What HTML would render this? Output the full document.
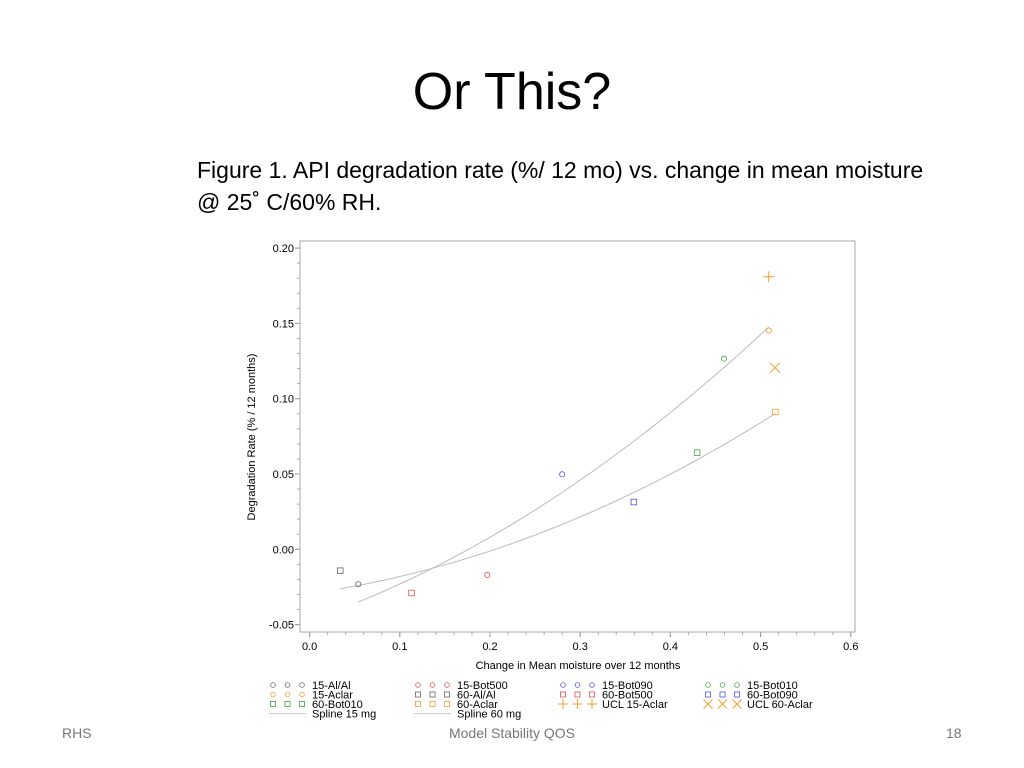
<!DOCTYPE html>
<html><head><meta charset="utf-8"><style>
body{margin:0;width:1024px;height:768px;background:#fff;overflow:hidden;font-family:"Liberation Sans",sans-serif;position:relative}
.t{position:absolute}
</style></head><body>
<div class="t" style="left:0;width:1024px;top:62px;text-align:center;font-size:52px;color:#000">Or This?</div>
<div class="t" style="left:197px;top:154px;font-size:23px;line-height:32px;color:#000">Figure 1. API degradation rate (%/ 12 mo) vs. change in mean moisture<br>@ 25˚ C/60% RH.</div>
<div class="t" style="left:62px;top:725px;font-size:14px;color:#777">RHS</div>
<div class="t" style="left:0;width:1024px;text-align:center;top:725px;font-size:14px;color:#777">Model Stability QOS</div>
<div class="t" style="left:946px;top:725px;font-size:14px;color:#777">18</div>
<svg id="chart" width="1024" height="768" style="position:absolute;left:0;top:0" font-family="Liberation Sans, sans-serif"></svg>
<script>
const xTicks=[0,0.1,0.2,0.3,0.4,0.5,0.6];
const yTicks=[-0.05,0,0.05,0.10,0.15,0.20];
const seriesNames=["15-Al/Al","60-Al/Al","15-Bot500","60-Bot500","15-Bot090","60-Bot090","15-Bot010","60-Bot010","15-Aclar","60-Aclar","UCL 15-Aclar","UCL 60-Aclar"];
const seriesX=[0.054,0.034,0.197,0.113,0.280,0.3595,0.4595,0.4296,0.5093,0.5164,0.509,0.516];
const seriesY=[-0.0232,-0.0142,-0.017,-0.029,0.0498,0.0314,0.1266,0.0642,0.1452,0.0912,0.181,0.1206];
const seriesMarker=["o","s","o","s","o","s","o","s","o","s","+","x"];
const seriesColor=["#666","#666","#e05050","#e05050","#5050e0","#5050e0","#40a040","#40a040","#f0a030","#f0a030","#f0a030","#f0a030"];
const spline15X=[0.054,0.134,0.2,0.28,0.4075,0.46,0.509];
const spline15Y=[-0.0333,-0.0155,0.0062,0.0405,0.0925,0.125,0.1452];
const spline60X=[0.034,0.134,0.2,0.28,0.36,0.43,0.5164];
const spline60Y=[-0.0252,-0.0137,-0.0022,0.0161,0.0372,0.0638,0.088];
const NS="http://www.w3.org/2000/svg";
const svg=document.getElementById('chart');
const X=v=>309.6+v*902, Y=v=>549.3-v*1506;
function el(t,a,p){const e=document.createElementNS(NS,t);for(const k in a)e.setAttribute(k,a[k]);(p||svg).appendChild(e);return e;}
const frame=el('rect',{x:300,y:241,width:555,height:391,fill:'none',stroke:'#aaa','stroke-width':1});


xTicks.forEach(v=>{
  el('line',{x1:X(v),x2:X(v),y1:632,y2:637,stroke:'#888'});
  const t=el('text',{x:X(v),y:650,'font-size':11,'text-anchor':'middle',fill:'#000'});t.textContent=v.toFixed(1);
  
  
});
for(let v=0;v<=0.6001;v+=0.02){el('line',{x1:X(v),x2:X(v),y1:632,y2:635,stroke:'#aaa'});}
yTicks.forEach(v=>{
  el('line',{x1:295,x2:300,y1:Y(v),y2:Y(v),stroke:'#888'});
  const t=el('text',{x:294,y:Y(v)+4,'font-size':11,'text-anchor':'end',fill:'#000'});t.textContent=v.toFixed(2);
  
  
});
for(let v=-0.05;v<=0.2001;v+=0.01){el('line',{x1:297,x2:300,y1:Y(v),y2:Y(v),stroke:'#aaa'});}
const xt=el('text',{x:578,y:669,'font-size':11,'text-anchor':'middle'});xt.textContent='Change in Mean moisture over 12 months';


const yt=el('text',{x:0,y:0,'font-size':11,'text-anchor':'middle',transform:'translate(255,437) rotate(-90)'});yt.textContent='Degradation Rate (% / 12 months)';


// least-squares quadratic fit through the spline arrays, then sample
function quadPath(xs,ys){
  const n=xs.length;let S=[0,0,0,0,0],T=[0,0,0];
  for(let i=0;i<n;i++){const x=xs[i];for(let k=0;k<5;k++)S[k]+=Math.pow(x,k);for(let k=0;k<3;k++)T[k]+=ys[i]*Math.pow(x,k);}
  const A=[[S[0],S[1],S[2],T[0]],[S[1],S[2],S[3],T[1]],[S[2],S[3],S[4],T[2]]];
  for(let i=0;i<3;i++){for(let j=i+1;j<3;j++){const f=A[j][i]/A[i][i];for(let k=i;k<4;k++)A[j][k]-=f*A[i][k];}}
  const c=[0,0,0];for(let i=2;i>=0;i--){let s=A[i][3];for(let k=i+1;k<3;k++)s-=A[i][k]*c[k];c[i]=s/A[i][i];}
  const x0=xs[0],x1=xs[n-1];let d='';
  for(let i=0;i<=60;i++){const x=x0+(x1-x0)*i/60;const y=c[0]+c[1]*x+c[2]*x*x;d+=(i?'L':'M')+X(x).toFixed(1)+','+Y(y).toFixed(1);}
  return d;
}
const s1=el('path',{d:quadPath(spline15X,spline15Y),fill:'none',stroke:'#bbb','stroke-width':1});


const s2=el('path',{d:quadPath(spline60X,spline60Y),fill:'none',stroke:'#bbb','stroke-width':1});


function marker(m,cx,cy,c,sz){
  let e;
  if(m==='o')e=el('circle',{cx,cy,r:2.6*sz,fill:'none',stroke:c,'stroke-width':0.8});
  else if(m==='s')e=el('rect',{x:cx-2.8*sz,y:cy-2.8*sz,width:5.6*sz,height:5.6*sz,fill:'none',stroke:c,'stroke-width':0.8});
  else if(m==='+')e=el('path',{d:`M${cx-5.5*sz},${cy}H${cx+5.5*sz}M${cx},${cy-5.5*sz}V${cy+5.5*sz}`,stroke:c,'stroke-width':1});
  else e=el('path',{d:`M${cx-5*sz},${cy-5*sz}L${cx+5*sz},${cy+5*sz}M${cx+5*sz},${cy-5*sz}L${cx-5*sz},${cy+5*sz}`,stroke:c,'stroke-width':1});
  return e;
}
seriesX.forEach((x,i)=>{
  const m=marker(seriesMarker[i],X(x),Y(seriesY[i]),seriesColor[i],1);
  
  
});
const legItems=[[0,2,4,6],[8,1,3,5],[7,9,10,11]];
const colX=[273,418,563,708];
const rowY=[685,694.5,704,713.5];
legItems.forEach((row,r)=>row.forEach((si,c)=>{
  const g=el('g',{});
  
  
  for(let k=0;k<3;k++){const m=marker(seriesMarker[si],colX[c]+k*14.5,rowY[r],seriesColor[si],0.9);g.appendChild(m);}
  const t=el('text',{x:colX[c]+39,y:rowY[r]+4,'font-size':11},g);t.textContent=seriesNames[si];
}));
['Spline 15 mg','Spline 60 mg'].forEach((n,c)=>{
  const g=el('g',{});
  
  
  el('line',{x1:colX[c]-4,x2:colX[c]+33,y1:rowY[3],y2:rowY[3],stroke:'#ccc'},g);
  const t=el('text',{x:colX[c]+39,y:rowY[3]+4,'font-size':11},g);t.textContent=n;
});
</script>
</body></html>
